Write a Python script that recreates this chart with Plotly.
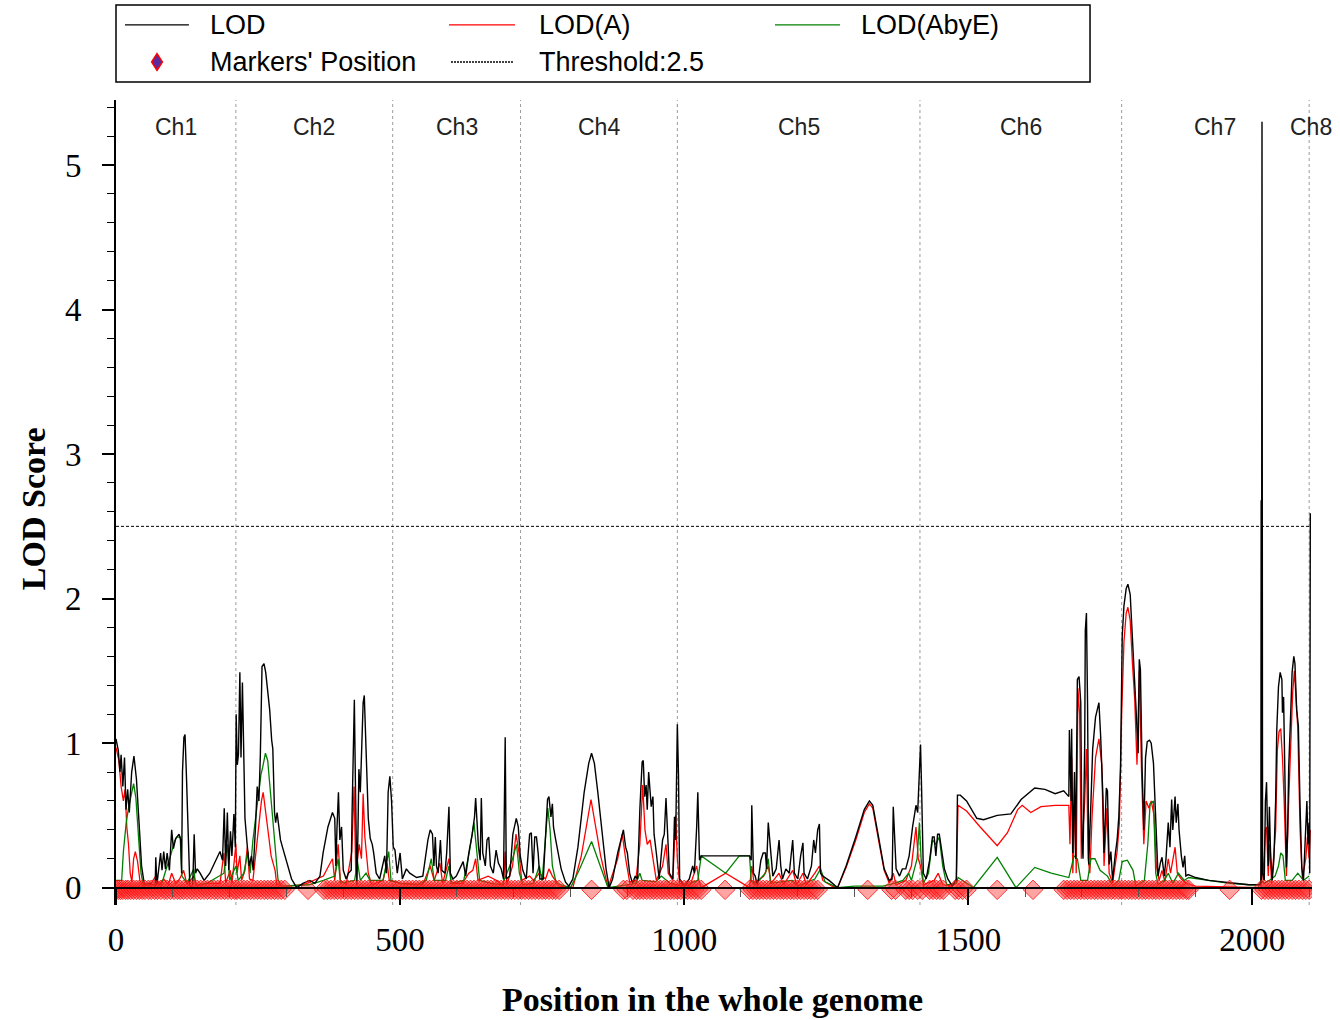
import plotly.graph_objects as go

# ---------------- data ----------------
chrom_names = ["Ch1", "Ch2", "Ch3", "Ch4", "Ch5", "Ch6", "Ch7", "Ch8"]
chrom_starts = [0, 211, 487, 712, 988, 1415, 1770, 2100]
genome_end = 2105
threshold = 2.5

lod_points = [
    [0, 1.03], [4, 0.95], [7, 0.80], [9, 0.92], [12, 0.70], [15, 0.90], [17.6, 0.54], [20.5, 0.68],
    [23.4, 0.52], [27.6, 0.80], [31.6, 0.91], [36, 0.75], [41, 0.42], [45, 0.15], [50, 0.02], [60, 0.03],
    [69, 0.01], [70, 0.21], [72, 0.02], [76, 0.15], [78.5, 0.24], [81, 0.12], [84, 0.25], [87, 0.13],
    [90, 0.24], [94, 0.12], [98, 0.40], [101, 0.27], [105, 0.34], [111, 0.37], [114, 0.33], [115.5, 0.10],
    [117, 0.80], [119.5, 1.04], [121.5, 1.06], [124, 0.77], [127, 0.44], [130, 0.01], [135, 0.01],
    [137.6, 0.37], [140, 0.10], [143, 0.13], [148, 0.10], [155, 0.05], [165, 0.10], [174, 0.17],
    [183, 0.25], [187.5, 0.19], [190.5, 0.55], [193, 0.15], [196, 0.52], [198.5, 0.12], [201.5, 0.39],
    [204, 0.22], [207.5, 0.51], [210, 0.28], [211.5, 1.20], [213.5, 0.85], [215.5, 0.92], [218, 1.49],
    [220, 0.90], [222.5, 1.42], [225, 0.92], [227, 0.48], [231, 0.29], [234.5, 0.15], [238.5, 0.22],
    [241.5, 0.12], [245.5, 0.42], [248.5, 0.70], [251.5, 0.60], [254, 0.91], [257, 1.53], [260.5, 1.55],
    [263.5, 1.49], [267, 1.37], [270.5, 1.23], [274, 1.02], [276, 0.96], [279, 0.52], [281, 0.45],
    [283.5, 0.52], [286, 0.45], [289.5, 0.33], [293, 0.28], [300, 0.19], [309, 0.06], [318, 0.00],
    [329, 0.03], [341, 0.05], [350, 0.03], [359, 0.08], [364.5, 0.24], [373, 0.42], [381, 0.52],
    [385, 0.48], [387, 0.15], [389, 0.42], [391.5, 0.66], [394, 0.33], [397, 0.42], [400, 0.12],
    [405, 0.06], [409, 0.10], [414, 0.12], [415.5, 0.52], [418, 0.95], [419.5, 1.30], [421.5, 0.69],
    [424, 0.01], [426, 0.42], [427.5, 0.82], [430, 0.66], [432.5, 0.92], [435, 1.28], [437, 1.33],
    [439.5, 0.95], [442, 0.73], [444, 0.48], [447.5, 0.34], [451, 0.30], [453.5, 0.24], [458, 0.10],
    [464, 0.06], [473, 0.22], [476, 0.10], [479, 0.66], [482, 0.77], [485, 0.60], [488, 0.28],
    [491, 0.26], [495, 0.10], [500, 0.24], [504, 0.06], [511, 0.13], [517, 0.10], [529, 0.07],
    [540, 0.08], [549, 0.33], [553, 0.40], [557, 0.37], [559.5, 0.15], [562, 0.35], [564, 0.15],
    [567, 0.10], [571, 0.33], [573.5, 0.12], [579, 0.10], [582, 0.24], [586, 0.56], [588.5, 0.10],
    [593, 0.06], [599, 0.08], [605, 0.13], [611, 0.18], [615.5, 0.08], [621, 0.24], [627, 0.37],
    [631, 0.49], [633, 0.62], [636, 0.42], [638, 0.28], [641, 0.19], [643, 0.62], [645.5, 0.24],
    [650, 0.15], [653, 0.33], [656, 0.35], [659, 0.15], [664, 0.10], [669, 0.26], [673, 0.17],
    [678, 0.13], [682, 0.06], [685, 1.04], [687, 0.06], [693, 0.08], [698.5, 0.37], [704.5, 0.48],
    [708, 0.42], [711.5, 0.22], [716, 0.12], [722, 0.06], [728, 0.37], [731, 0.38], [734, 0.10],
    [737, 0.35], [740, 0.35], [743, 0.24], [746, 0.06], [752, 0.06], [756, 0.37], [759.5, 0.61],
    [762, 0.63], [765.5, 0.49], [768, 0.58], [770, 0.42], [773, 0.35], [778, 0.24], [783.5, 0.13],
    [791, 0.04], [797, 0.01], [804, 0.06], [813, 0.28], [824, 0.66], [832, 0.86], [837, 0.93],
    [842, 0.86], [848, 0.66], [855.5, 0.37], [862.5, 0.13], [868, 0.00], [874, 0.06], [883, 0.24],
    [891, 0.37], [893, 0.40], [897, 0.28], [900, 0.24], [904, 0.10], [909, 0.03], [914, 0.08],
    [918, 0.06], [922, 0.54], [926, 0.87], [928, 0.88], [930.5, 0.63], [933, 0.71], [935, 0.54],
    [937.5, 0.80], [940, 0.63], [942, 0.56], [945, 0.63], [947, 0.37], [951, 0.24], [956, 0.06],
    [962, 0.33], [965, 0.37], [968, 0.62], [971, 0.37], [974, 0.10], [980, 0.06], [983, 0.49],
    [985, 0.33], [988, 1.13], [990, 0.78], [992, 0.06], [1000, 0.01], [1009, 0.06], [1015, 0.15],
    [1018, 0.10], [1022, 0.42], [1024, 0.66], [1027, 0.19], [1030, 0.22], [1115, 0.22], [1118, 0.19],
    [1119, 0.57], [1122, 0.10], [1125, 0.08], [1129, 0.01], [1135, 0.19], [1139, 0.24], [1143, 0.24],
    [1145, 0.13], [1148, 0.45], [1150, 0.33], [1153, 0.22], [1156, 0.08], [1162, 0.13], [1167, 0.33],
    [1170, 0.15], [1173, 0.06], [1179, 0.13], [1185, 0.10], [1191, 0.33], [1194, 0.10], [1200, 0.06],
    [1205, 0.22], [1209, 0.31], [1211, 0.10], [1217, 0.06], [1224, 0.15], [1228, 0.33], [1231, 0.24],
    [1235, 0.40], [1238, 0.44], [1240, 0.10], [1244, 0.08], [1255, 0.05], [1270, 0.00], [1285, 0.15],
    [1302, 0.35], [1317, 0.54], [1326, 0.60], [1332, 0.57], [1343, 0.33], [1352, 0.13], [1361, 0.05],
    [1366, 0.06], [1368, 0.56], [1370, 0.33], [1373, 0.13], [1379, 0.08], [1384, 0.13], [1390, 0.13],
    [1396, 0.22], [1402, 0.42], [1408, 0.57], [1411, 0.52], [1414, 0.75], [1416, 0.99], [1418, 0.66],
    [1421, 0.10], [1426, 0.06], [1432, 0.19], [1437, 0.35], [1440, 0.35], [1443, 0.22], [1446, 0.37],
    [1449, 0.37], [1454, 0.24], [1458, 0.13], [1464, 0.06], [1472, 0.01], [1479, 0.06], [1481, 0.64],
    [1486, 0.64], [1497, 0.60], [1515, 0.48], [1527, 0.47], [1551, 0.50], [1575, 0.51], [1593, 0.61],
    [1617, 0.69], [1635, 0.68], [1653, 0.65], [1668, 0.67], [1677, 0.63], [1678, 1.09], [1681, 0.60],
    [1682, 1.10], [1684, 0.24], [1687, 0.80], [1689, 0.20], [1692, 1.44], [1695, 1.46], [1698, 1.28],
    [1700, 0.36], [1702, 0.20], [1705, 1.00], [1706, 1.78], [1708, 1.90], [1710, 1.26], [1712, 0.16],
    [1716, 0.60], [1719, 0.96], [1724, 1.18], [1730, 1.28], [1733, 1.05], [1737, 0.63], [1739, 0.24],
    [1743, 0.69], [1745, 0.67], [1748, 0.16], [1751, 0.25], [1754, 0.05], [1759, 0.24], [1762, 0.33],
    [1765, 0.49], [1768, 0.83], [1771, 1.74], [1774, 1.95], [1778, 2.07], [1781, 2.10], [1785, 2.03],
    [1788, 1.76], [1792, 1.49], [1795, 1.26], [1799, 0.93], [1801, 1.58], [1803, 1.51], [1806, 0.82],
    [1809, 0.40], [1812, 0.90], [1815, 1.01], [1819, 1.02], [1822, 1.00], [1826, 0.86], [1828, 0.63],
    [1831, 0.28], [1834, 0.08], [1838, 0.17], [1841, 0.21], [1845, 0.08], [1848, 0.20], [1852, 0.45],
    [1855, 0.28], [1858, 0.61], [1860, 0.40], [1864, 0.63], [1866, 0.45], [1869, 0.58], [1871, 0.40],
    [1875, 0.22], [1878, 0.14], [1881, 0.22], [1883, 0.08], [1887, 0.09], [1900, 0.07], [1923, 0.05],
    [1946, 0.04], [1970, 0.03], [1994, 0.02], [2011, 0.02], [2015, 0.02], [2015.5, 2.68], [2016, 0.05],
    [2016.5, 2.66], [2017, 5.30], [2017.5, 2.60], [2018, 0.10], [2021, 0.05], [2023, 0.60], [2025, 0.73],
    [2028, 0.15], [2030, 0.56],
    [2032, 0.25], [2035, 0.05], [2038, 0.20], [2041, 0.60], [2043, 1.09], [2046, 1.39], [2049, 1.49],
    [2052, 1.44], [2053, 1.21], [2055, 1.32], [2057, 0.86], [2060, 0.14], [2062, 0.37], [2064, 0.83],
    [2067, 1.15], [2070, 1.49], [2073, 1.60], [2075, 1.55], [2078, 1.23], [2081, 1.12], [2084, 0.56],
    [2087, 0.14], [2090, 0.05], [2094, 0.37], [2096, 0.60], [2098, 0.30], [2100, 0.45], [2101, 0.10],
    [2102, 2.59],
]

lod_a_points = [
    [0, 0.97], [5, 0.88], [9, 0.70], [13, 0.60], [16, 0.68], [19, 0.42], [22, 0.30], [25, 0.10],
    [28, 0.04], [31, 0.20], [34, 0.25], [38, 0.18], [42, 0.05], [47, 0.01], [60, 0.02], [70, 0.08],
    [75, 0.02], [84, 0.06], [92, 0.02], [98, 0.10], [105, 0.03], [112, 0.06], [119, 0.12], [125, 0.02],
    [137, 0.08], [142, 0.01], [160, 0.03], [183, 0.03], [190, 0.24], [193, 0.03], [201, 0.12],
    [204, 0.03], [208, 0.18], [211, 0.30], [213, 0.10], [218, 0.22], [221, 0.05], [227, 0.12],
    [231, 0.28], [235, 0.06], [241, 0.05], [246, 0.24], [251, 0.40], [256, 0.60], [259, 0.66],
    [263, 0.55], [268, 0.38], [273, 0.22], [280, 0.12], [283, 0.02], [300, 0.01], [330, 0.02],
    [365, 0.08], [381, 0.20], [385, 0.05], [391, 0.30], [395, 0.05], [405, 0.02], [415, 0.25],
    [419, 0.70], [422, 0.10], [428, 0.30], [432, 0.20], [435, 0.65], [438, 0.35], [444, 0.10],
    [450, 0.02], [470, 0.05], [477, 0.17], [481, 0.05], [500, 0.03], [540, 0.02], [553, 0.15],
    [560, 0.05], [570, 0.17], [575, 0.03], [586, 0.20], [590, 0.03], [610, 0.03], [621, 0.10],
    [628, 0.12], [633, 0.20], [637, 0.05], [655, 0.08], [670, 0.05], [682, 0.01], [685, 0.25],
    [688, 0.02], [698, 0.15], [704, 0.37], [709, 0.25], [714, 0.05], [728, 0.08], [735, 0.05],
    [745, 0.10], [756, 0.06], [762, 0.13], [768, 0.08], [780, 0.01], [804, 0.00], [819, 0.22],
    [836, 0.61], [853, 0.22], [866, 0.00], [883, 0.20], [891, 0.37], [897, 0.20], [904, 0.04],
    [915, 0.05], [922, 0.30], [927, 0.71], [931, 0.40], [935, 0.30], [940, 0.33], [945, 0.20],
    [951, 0.05], [962, 0.15], [968, 0.30], [972, 0.10], [980, 0.05], [985, 0.50], [988, 0.20],
    [992, 0.03], [1010, 0.01], [1022, 0.15], [1026, 0.05], [1030, 0.00], [1073, 0.10], [1115, 0.00],
    [1119, 0.15], [1123, 0.03], [1140, 0.08], [1148, 0.15], [1153, 0.03], [1167, 0.10], [1175, 0.02],
    [1191, 0.12], [1198, 0.02], [1209, 0.10], [1215, 0.02], [1230, 0.10], [1238, 0.15], [1244, 0.05],
    [1260, 0.01], [1270, 0.00], [1285, 0.14], [1302, 0.33], [1317, 0.52], [1326, 0.58], [1332, 0.55],
    [1343, 0.31], [1352, 0.12], [1361, 0.03], [1368, 0.10], [1373, 0.02], [1390, 0.05], [1400, 0.15],
    [1405, 0.35], [1408, 0.42], [1412, 0.20], [1416, 0.15], [1421, 0.02], [1440, 0.05], [1447, 0.10],
    [1455, 0.02], [1470, 0.01], [1479, 0.03], [1482, 0.57], [1497, 0.53], [1521, 0.42], [1551, 0.29],
    [1569, 0.38], [1587, 0.54], [1595, 0.57], [1610, 0.52], [1628, 0.56], [1653, 0.57], [1677, 0.57],
    [1679, 0.30], [1682, 0.90], [1684, 0.10], [1688, 0.60], [1690, 0.10], [1693, 1.38], [1696, 1.20],
    [1699, 0.20], [1705, 0.60], [1708, 0.96], [1711, 0.20], [1714, 0.10], [1718, 0.50], [1724, 0.90],
    [1730, 1.03], [1735, 0.85], [1739, 0.15], [1744, 0.55], [1748, 0.10], [1754, 0.03], [1762, 0.25],
    [1766, 0.45], [1770, 1.20], [1774, 1.70], [1778, 1.90], [1781, 1.94], [1785, 1.85], [1789, 1.55],
    [1793, 1.30], [1797, 0.85], [1801, 1.50], [1805, 0.80], [1809, 0.30], [1813, 0.60], [1818, 0.55],
    [1822, 0.60], [1827, 0.50], [1831, 0.15], [1836, 0.05], [1841, 0.12], [1846, 0.04], [1852, 0.20],
    [1856, 0.10], [1864, 0.28], [1868, 0.10], [1875, 0.06], [1883, 0.03], [1900, 0.01], [2000, 0.00],
    [2015, 0.00], [2017, 0.30], [2019, 0.05], [2023, 0.40], [2025, 0.42], [2028, 0.08], [2030, 0.30],
    [2034, 0.03], [2041, 0.40], [2044, 0.95], [2047, 1.08], [2050, 1.10], [2053, 0.90], [2056, 0.60],
    [2060, 0.08], [2064, 0.60], [2068, 1.00], [2071, 1.35], [2074, 1.50], [2077, 1.30], [2080, 1.10],
    [2084, 0.40], [2088, 0.06], [2094, 0.20], [2097, 0.35], [2100, 0.20], [2102, 0.40],
]

lod_abye_points = [
    [0, 0.05], [10, 0.05], [13, 0.25], [18, 0.45], [22, 0.55], [27, 0.66], [31, 0.72], [35, 0.62],
    [40, 0.35], [44, 0.10], [48, 0.02], [80, 0.02], [90, 0.15], [96, 0.22], [103, 0.32], [107, 0.35],
    [113, 0.35], [116, 0.08], [125, 0.03], [137, 0.13], [140, 0.02], [160, 0.03], [190, 0.10],
    [196, 0.30], [200, 0.05], [211, 0.15], [215, 0.05], [225, 0.10], [232, 0.25], [236, 0.10],
    [241, 0.33], [246, 0.50], [250, 0.62], [255, 0.78], [258, 0.83], [263, 0.93], [267, 0.88],
    [272, 0.66], [276, 0.45], [280, 0.33], [285, 0.06], [290, 0.01], [340, 0.02], [365, 0.05],
    [385, 0.08], [391, 0.20], [395, 0.03], [420, 0.05], [425, 0.18], [430, 0.05], [440, 0.10],
    [447, 0.05], [470, 0.05], [480, 0.25], [484, 0.05], [500, 0.03], [530, 0.02], [546, 0.05],
    [555, 0.20], [560, 0.05], [580, 0.05], [586, 0.15], [590, 0.03], [612, 0.05], [622, 0.25],
    [630, 0.45], [634, 0.30], [640, 0.05], [660, 0.03], [680, 0.02], [698, 0.20], [705, 0.30],
    [710, 0.10], [716, 0.02], [735, 0.03], [745, 0.15], [750, 0.05], [755, 0.30], [760, 0.55],
    [764, 0.40], [768, 0.15], [775, 0.03], [800, 0.00], [815, 0.12], [837, 0.32], [855, 0.12],
    [866, 0.00], [900, 0.02], [915, 0.03], [922, 0.10], [926, 0.05], [950, 0.04], [960, 0.08],
    [975, 0.03], [1000, 0.01], [1024, 0.05], [1030, 0.22], [1073, 0.10], [1097, 0.22], [1115, 0.22],
    [1118, 0.05], [1125, 0.02], [1143, 0.10], [1148, 0.20], [1152, 0.03], [1190, 0.05], [1200, 0.01],
    [1230, 0.06], [1240, 0.13], [1248, 0.04], [1270, 0.00], [1300, 0.01], [1350, 0.01], [1370, 0.03],
    [1385, 0.05], [1395, 0.10], [1400, 0.05], [1410, 0.20], [1414, 0.45], [1417, 0.20], [1421, 0.03],
    [1430, 0.10], [1437, 0.33], [1443, 0.30], [1449, 0.35], [1455, 0.15], [1462, 0.02], [1479, 0.03],
    [1482, 0.07], [1509, 0.00], [1551, 0.21], [1584, 0.00], [1617, 0.14], [1646, 0.10], [1677, 0.07],
    [1682, 0.15], [1686, 0.22], [1692, 0.20], [1698, 0.05], [1710, 0.05], [1716, 0.20], [1723, 0.20],
    [1732, 0.12], [1745, 0.08], [1755, 0.01], [1765, 0.05], [1771, 0.18], [1780, 0.19], [1790, 0.12],
    [1795, 0.01], [1810, 0.05], [1816, 0.30], [1820, 0.58], [1826, 0.60], [1830, 0.10], [1834, 0.02],
    [1845, 0.05], [1852, 0.10], [1860, 0.03], [1870, 0.10], [1880, 0.05], [1888, 0.07], [1920, 0.05],
    [1960, 0.03], [1994, 0.02], [2011, 0.02], [2016, 0.05], [2020, 0.03], [2030, 0.05], [2040, 0.08],
    [2046, 0.15], [2050, 0.24], [2054, 0.22], [2058, 0.05], [2070, 0.05], [2080, 0.10], [2090, 0.05],
    [2100, 0.08],
]

marker_positions = [
    0, 4, 8, 12, 17, 21, 26, 31, 36, 41, 46, 51, 57, 62, 68, 73, 79, 85, 90, 96, 102, 108, 113, 119,
    125, 131, 137, 143, 149, 155, 161, 167, 173, 179, 185, 191, 197, 203, 209,
    213, 219, 225, 231, 237, 243, 249, 255, 261, 267, 273, 279, 285, 291, 297, 338,
    366, 372, 378, 384, 390, 396, 402, 408, 414, 420, 426, 432, 438, 444, 450, 456, 462, 468, 474,
    480, 486, 492, 498, 504, 510, 516, 522, 528, 534, 540, 546, 552, 558, 564, 570, 576, 582, 588,
    594, 600, 606, 612, 618, 624, 630, 636, 642, 648, 654, 660, 666, 672, 678, 684, 690, 696, 702, 708,
    714, 720, 726, 732, 738, 744, 750, 756, 762, 768, 774, 780, 837, 893, 899,
    910, 916, 922, 928, 934, 940, 946, 952, 958, 964, 970, 976, 982, 988,
    994, 1000, 1006, 1012, 1018, 1024, 1030, 1072,
    1115, 1121, 1127, 1133, 1139, 1145, 1151, 1157, 1163, 1169, 1175, 1181, 1187, 1193, 1199, 1205,
    1211, 1217, 1223, 1229, 1235, 1323, 1365, 1372, 1390, 1396, 1402, 1411, 1419,
    1432, 1438, 1444, 1450, 1456, 1477, 1483, 1490, 1497, 1551, 1614,
    1668, 1674, 1680, 1686, 1692, 1698, 1704, 1710, 1716, 1722, 1728, 1734, 1740, 1746, 1752, 1758,
    1764, 1770, 1776, 1782, 1788, 1794, 1800, 1806, 1812, 1818, 1824, 1830, 1836, 1842, 1848, 1854,
    1860, 1866, 1872, 1878, 1884, 1888, 1960,
    2016, 2022, 2028, 2034, 2040, 2046, 2052, 2058, 2064, 2070, 2076, 2082, 2088, 2094, 2100,
]
marker_level = -0.015

# ---------------- figure ----------------
SERIF = "Liberation Serif, Times New Roman, serif"
SANS = "Liberation Sans, Arial, sans-serif"

fig = go.Figure()

fig.add_trace(go.Scatter(
    x=[p[0] for p in lod_a_points], y=[p[1] for p in lod_a_points], mode="lines",
    line=dict(color="#ff0000", width=1.3), name="LOD(A)", showlegend=False, hoverinfo="skip"))
fig.add_trace(go.Scatter(
    x=[p[0] for p in lod_abye_points], y=[p[1] for p in lod_abye_points], mode="lines",
    line=dict(color="#008000", width=1.3), name="LOD(AbyE)", showlegend=False, hoverinfo="skip"))
fig.add_trace(go.Scatter(
    x=[p[0] for p in lod_points], y=[p[1] for p in lod_points], mode="lines",
    line=dict(color="black", width=1.4), name="LOD", showlegend=False, hoverinfo="skip"))
fig.add_trace(go.Scatter(
    x=marker_positions, y=[marker_level] * len(marker_positions), mode="markers",
    marker=dict(symbol="diamond", size=15, color="rgba(255,50,50,0.45)",
                line=dict(color="rgba(255,0,0,0.75)", width=1)),
    name="Markers' Position", showlegend=False, hoverinfo="skip"))
fig.add_trace(go.Scatter(
    x=[0, chrom_starts[-1]], y=[threshold, threshold], mode="lines",
    line=dict(color="black", width=1, dash="3px,2px"), name="Threshold", showlegend=False,
    hoverinfo="skip"))

shapes = []
annotations = []

# chromosome boundaries and labels
chrom_ends = chrom_starts[1:] + [genome_end]
for s in chrom_starts[1:]:
    shapes.append(dict(type="line", xref="x", yref="y", x0=s, x1=s, y0=-0.12, y1=5.45,
                       line=dict(color="#9a9a9a", width=1, dash="dot"), layer="below"))
for name, s, e in zip(chrom_names, chrom_starts, chrom_ends):
    annotations.append(dict(text=name, x=(s + e) / 2, y=5.26, xref="x", yref="y",
                            showarrow=False, xanchor="center", yanchor="middle",
                            font=dict(family=SANS, size=23, color="#222222")))

# manual legend box
shapes.append(dict(type="rect", xref="paper", yref="paper", x0=0.0, x1=0.8144,
                   y0=1.0224, y1=1.1180, line=dict(color="black", width=1.5),
                   fillcolor="white"))
row1, row2 = 1.0932, 1.0472
legend_lines = [
    (0.0075, 0.0610, row1, "black", "solid"),
    (0.2784, 0.3336, row1, "#ff0000", "solid"),
    (0.5510, 0.6054, row1, "#008000", "solid"),
    (0.2801, 0.3319, row2, "black", "2px,1px"),
]
for x0, x1, yy, col, dash in legend_lines:
    shapes.append(dict(type="line", xref="paper", yref="paper", x0=x0, x1=x1, y0=yy, y1=yy,
                       line=dict(color=col, width=1.3, dash=dash)))
# diamond legend symbol
cx, cy, hw, hh = 0.0343, row2, 0.0045, 0.0105
shapes.append(dict(type="path", xref="paper", yref="paper",
                   path=f"M {cx-hw},{cy} L {cx},{cy+hh} L {cx+hw},{cy} L {cx},{cy-hh} Z",
                   fillcolor="#5b2a9e", line=dict(color="#ff0000", width=1.5)))
legend_texts = [
    ("LOD", 0.0769, row1), ("LOD(A)", 0.352, row1), ("LOD(AbyE)", 0.6212, row1),
    ("Markers' Position", 0.0769, row2), ("Threshold:2.5", 0.352, row2),
]
for t, xx, yy in legend_texts:
    annotations.append(dict(text=t, x=xx, y=yy, xref="paper", yref="paper", showarrow=False,
                            xanchor="left", yanchor="middle",
                            font=dict(family=SANS, size=27, color="black")))

# axis titles
annotations.append(dict(text="<b>LOD Score</b>", x=-0.0694, y=0.493, xref="paper", yref="paper",
                        showarrow=False, textangle=-90, xanchor="center", yanchor="middle",
                        font=dict(family=SERIF, size=34, color="black")))
annotations.append(dict(text="<b>Position in the whole genome</b>", x=0.499, y=-0.118,
                        xref="paper", yref="paper", showarrow=False, xanchor="center",
                        yanchor="middle", font=dict(family=SERIF, size=34, color="black")))

fig.update_layout(
    width=1340, height=1020,
    margin=dict(l=116, r=28, t=100, b=115, pad=0),
    paper_bgcolor="white", plot_bgcolor="white",
    showlegend=False,
    shapes=shapes, annotations=annotations,
    xaxis=dict(range=[0, genome_end], anchor="free", position=0.0211,
               showline=True, linecolor="black", linewidth=2, showgrid=False, zeroline=False,
               tickmode="linear", tick0=0, dtick=500, ticks="outside", ticklen=16, tickwidth=1.5,
               tickcolor="black", minor=dict(dtick=100, ticks="outside", ticklen=8,
                                             tickcolor="#555555", tickwidth=1),
               tickfont=dict(family=SERIF, size=33, color="black"), ticklabelstandoff=6),
    yaxis=dict(range=[-0.12, 5.45], domain=[0, 1],
               showline=True, linecolor="black", linewidth=2, showgrid=False, zeroline=False,
               tickmode="linear", tick0=0, dtick=1, ticks="outside", ticklen=12, tickwidth=1.5,
               tickcolor="black", minor=dict(dtick=0.2, ticks="outside", ticklen=7,
                                             tickcolor="black", tickwidth=1),
               tickfont=dict(family=SERIF, size=33, color="black"), ticklabelstandoff=14),
)

fig.write_html("out.html")
